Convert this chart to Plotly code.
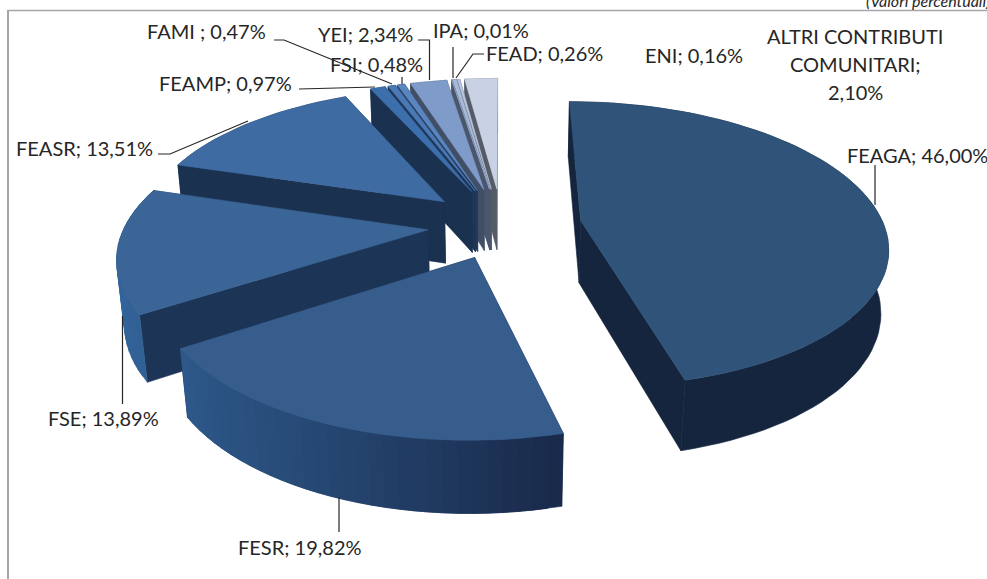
import math
import plotly.graph_objects as go

# ---- data (percent, clockwise from 12 o'clock)
names = ["FEAGA", "FESR", "FSE", "FEASR", "FEAMP", "FAMI ", "FSI", "YEI", "IPA", "FEAD", "ENI", "ALTRI CONTRIBUTI COMUNITARI"]
values = [46.00, 19.82, 13.89, 13.51, 0.97, 0.47, 0.48, 2.34, 0.01, 0.26, 0.16, 2.10]
labels_text = ["46,00%", "19,82%", "13,89%", "13,51%", "0,97%", "0,47%", "0,48%", "2,34%", "0,01%", "0,26%", "0,16%", "2,10%"]

# ---- style per slice
top_colors = ["#2f5379", "#365d8b", "#3a6596", "#3e6ca2", "#3d6fac", "#4a79b6", "#5a85bf", "#7f9bc9", "#9db2d6", "#a9bad9", "#b7c5de", "#c9d2e4"]
wall_left = ["#14253d", "#2d5889", "#33649b", "#1a3150", "#1a3150", "#1e3658", "#22395b", "#414f66", "#4a566b", "#4f5a6c", "#525c6c", "#555c68"]
wall_right = ["#14253d", "#19294a", "#2f5c8f", "#1a3150", "#1a3150", "#1e3658", "#22395b", "#414f66", "#4a566b", "#4f5a6c", "#525c6c", "#555c68"]
side_colors = ["#14253d", "#19294a", "#1c3455", "#1a3150", "#1a3150", "#1e3658", "#22395b", "#414f66", "#4a566b", "#4f5a6c", "#525c6c", "#555c68"]
explode = [0.263, 0.24, 0.245, 0.26, 0.27, 0.27, 0.27, 0.27, 0.27, 0.27, 0.27, 0.27]

# ---- view of the tilted pie
CX, CY = 502, 225
A, B, K, H, M = 303, 140, 0.167, 64, 0.02


def project(u, v, z=0.0):
    w = 1.0 / (1 - K * v + M * z)
    return CX + A * u * w, CY + (B * v + H * z) * w


def lerp_color(c1, c2, t):
    a = [int(c1[i:i + 2], 16) for i in (1, 3, 5)]
    b = [int(c2[i:i + 2], 16) for i in (1, 3, 5)]
    return "rgb(%d,%d,%d)" % tuple(round(p + (q - p) * t) for p, q in zip(a, b))


fig = go.Figure()


def poly(points, color):
    xs = [p[0] for p in points] + [points[0][0]]
    ys = [p[1] for p in points] + [points[0][1]]
    fig.add_trace(go.Scatter(x=xs, y=ys, mode="lines", fill="toself", fillcolor=color,
                             line=dict(color=color, width=0.6), hoverinfo="skip", showlegend=False))


total = sum(values)
starts, acc = [], 0.0
for val in values:
    starts.append(acc)
    acc += val

# far slices first; the nearer ones cover them
order = list(range(len(values) - 1, 0, -1)) + [0]
for i in order:
    a0 = starts[i] / total * 2 * math.pi
    a1 = (starts[i] + values[i]) / total * 2 * math.pi
    mid = (a0 + a1) / 2
    eu, ev = explode[i] * math.sin(mid), -explode[i] * math.cos(mid)
    n = max(2, int(values[i] * 1.6))
    angles = [a0 + (a1 - a0) * j / n for j in range(n + 1)]
    rim = [(eu + math.sin(t), ev - math.cos(t)) for t in angles]

    # radial side walls
    for (ru, rv) in (rim[0], rim[-1]):
        poly([project(eu, ev), project(ru, rv), project(ru, rv, 1), project(eu, ev, 1)], side_colors[i])
    # rim wall: one band per step; each band overlaps the next so no seam shows
    xs_rim = [project(u, v)[0] for u, v in rim]
    lo, hi = min(xs_rim), max(xs_rim)
    if wall_left[i] == wall_right[i]:
        poly([project(u, v) for u, v in rim] + [project(u, v, 1) for u, v in reversed(rim)], wall_left[i])
    else:
        for j in range(n):
            k = min(j + 2, n)
            band = rim[j:k + 1]
            t = ((xs_rim[j] + xs_rim[j + 1]) / 2 - lo) / max(hi - lo, 1)
            poly([project(u, v) for u, v in band] + [project(u, v, 1) for u, v in reversed(band)],
                 lerp_color(wall_left[i], wall_right[i], t))
    # top face
    poly([project(eu, ev)] + [project(u, v) for u, v in rim], top_colors[i])

# ---- leader lines
leaders = [
    [(875, 165), (875, 205)],
    [(339, 497), (339, 532)],
    [(122.5, 316), (122.5, 404)],
    [(158, 154), (170, 154), (248, 121)],
    [(299, 89), (375, 87)],
    [(274, 40), (284, 40), (392, 84)],
    [(402, 77), (402, 84)],
    [(418, 40), (429.5, 40), (429.5, 80)],
    [(453, 47), (453, 78)],
    [(484, 54), (473, 54), (456, 78)],
]
for pts in leaders:
    fig.add_trace(go.Scatter(x=[p[0] for p in pts], y=[p[1] for p in pts], mode="lines",
                             line=dict(color="#262626", width=1.2), hoverinfo="skip", showlegend=False))

# ---- labels
FONT = dict(family="Lato", size=20, color="#262626")
placed = [
    (0, 845, 155, "left"), (1, 300, 547, "center"), (2, 103, 418, "center"), (3, 14, 148, "left"),
    (4, 157, 83, "left"), (5, 145, 31, "left"), (6, 328, 64, "left"), (7, 316, 34, "left"),
    (8, 431, 30, "left"), (9, 484, 53, "left"), (10, 643, 55, "left"),
]
for idx, x, y, anchor in placed:
    fig.add_annotation(x=x, y=y, text=f"{names[idx]}; {labels_text[idx]}", showarrow=False,
                       xanchor=anchor, yanchor="middle", font=FONT, xref="x", yref="y")
for txt, y in (("ALTRI CONTRIBUTI", 36), ("COMUNITARI;", 64), (labels_text[11], 92)):
    fig.add_annotation(x=855, y=y, text=txt, showarrow=False, xanchor="center", yanchor="middle",
                       font=FONT, xref="x", yref="y")
fig.add_annotation(x=864 / 987, y=1.0, text="<i>(Valori percentuali)</i>", showarrow=False, xanchor="left",
                   yanchor="middle", font=dict(family="Lato", size=16, color="#262626"), xref="paper", yref="paper")

# ---- frame
fig.add_shape(type="line", x0=8, x1=8, y0=10.5, y1=579, line=dict(color="#a6a6a6", width=2), layer="below")
fig.add_shape(type="line", x0=7, x1=987, y0=10.5, y1=10.5, line=dict(color="#a6a6a6", width=1.5), layer="below")

fig.update_layout(
    width=987, height=579, margin=dict(l=0, r=0, t=0, b=0),
    paper_bgcolor="white", plot_bgcolor="white", showlegend=False,
    xaxis=dict(range=[0, 987], visible=False, fixedrange=True),
    yaxis=dict(range=[579, 0], visible=False, fixedrange=True),
)
fig.write_html("out.html", config={"displayModeBar": False},
               post_script="document.body.style.margin='0';document.body.style.overflow='hidden';")
